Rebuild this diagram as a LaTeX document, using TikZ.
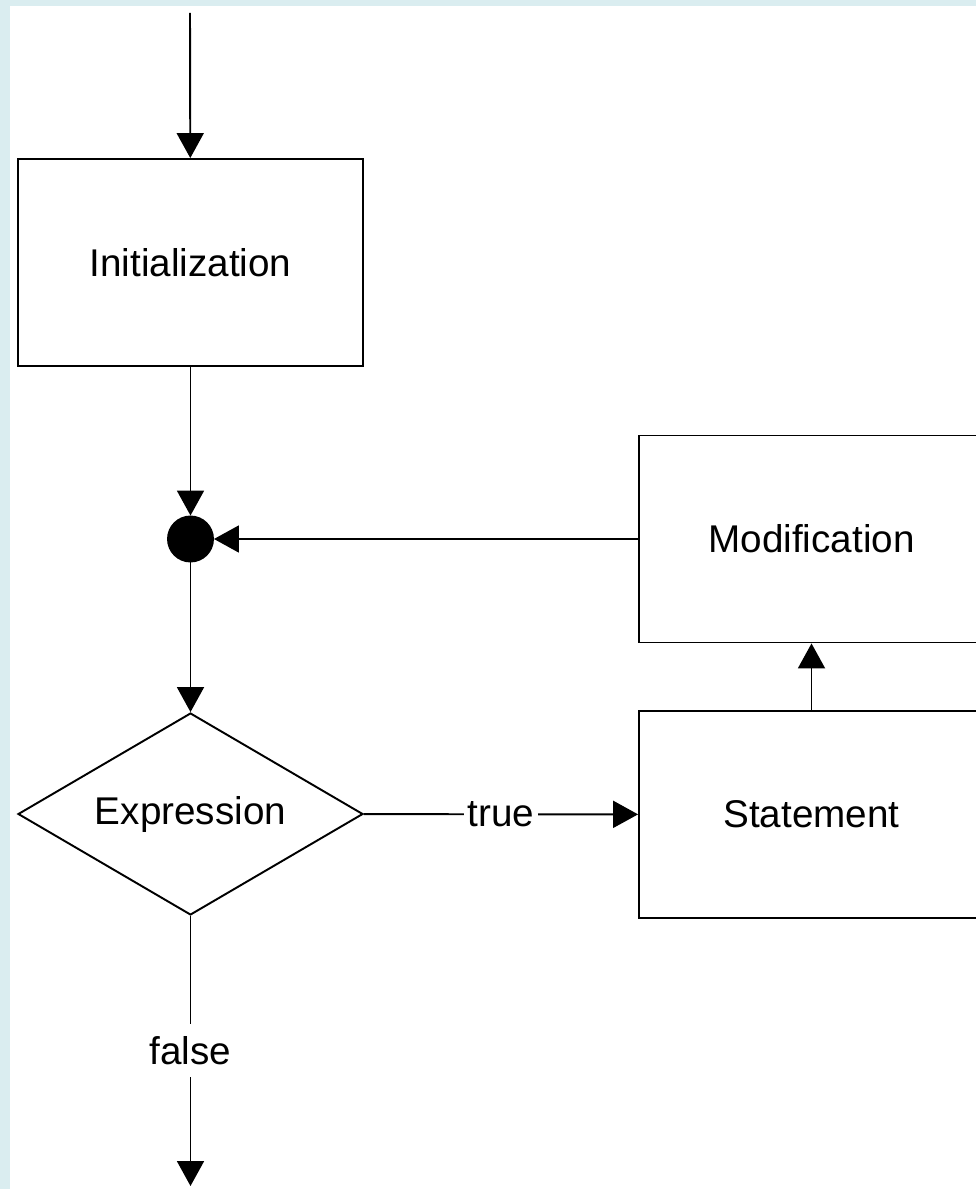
\documentclass[tikz,border=0pt]{standalone}
\usepackage{fontspec}
\setmainfont{Liberation Sans}
\usetikzlibrary{arrows.meta,shapes.geometric}
\definecolor{framebg}{RGB}{218,237,240}
\begin{document}
\begin{tikzpicture}[x=0.02cm, y=-0.02cm, line width=1.1pt,
  >={Triangle[length=0.5cm,width=0.54cm]},
  font=\fontsize{22}{26}\selectfont,
  box/.style = {draw,rectangle,minimum width=6.9cm,minimum height=4.14cm,inner sep=0pt},
  cond/.style = {draw,diamond,aspect=1.7,minimum width=6.9cm,minimum height=4.04cm,inner sep=0pt},
  dot/.style = {draw,circle,fill,minimum size=0.9cm,inner sep=0pt},
  lbl/.style = {fill=white,inner xsep=2pt,inner ysep=7pt}]
  \fill[framebg] (0,0) rectangle (976,1189);
  \fill[white] (10,6) rectangle (976,1189);
  \useasboundingbox (0,0) rectangle (976,1189);
  \coordinate (start) at (190,13);
  \node[box] (init) at (190.5,262.5) {Initialization};
  \node[dot] (join) at (190.5,539) {};
  \node[box] (mod) at (811.5,539) {Modification};
  \node[cond] (expr) at (190.5,814) {Expression};
  \node[box] (stmt) at (811.5,814.5) {Statement};
  \coordinate (stop) at (190.5,1186);
  \draw[->] (start) -- (init);
  \draw[->] (init) -- (join);
  \draw[->] (mod) -- (join);
  \draw[->] (join) -- (expr);
  \draw[->] (expr) -- node[lbl] {true} (stmt);
  \draw[->] (stmt) -- (mod);
  \draw[->] (expr) -- node[lbl] {false} (stop);
\end{tikzpicture}
\end{document}
